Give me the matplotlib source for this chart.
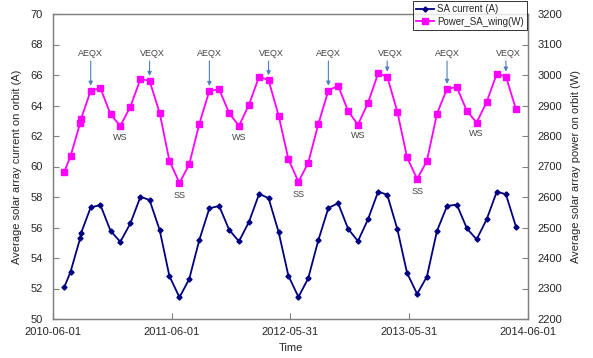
import matplotlib
matplotlib.use("Agg")
import matplotlib.pyplot as plt
import matplotlib.dates as mdates
import pandas as pd

plt.rcParams["font.family"] = ["Liberation Sans", "DejaVu Sans"]

# Sample dates (two samples fall in August 2010)
dates = [
    "2010-07-06", "2010-07-25", "2010-08-24", "2010-08-26", "2010-09-25", "2010-10-25",
    "2010-11-25", "2010-12-25", "2011-01-25", "2011-02-25", "2011-03-25", "2011-04-25",
    "2011-05-25", "2011-06-25", "2011-07-25", "2011-08-25", "2011-09-25", "2011-10-25",
    "2011-11-25", "2011-12-25", "2012-01-25", "2012-02-25", "2012-03-25", "2012-04-25",
    "2012-05-25", "2012-06-25", "2012-07-25", "2012-08-25", "2012-09-25", "2012-10-25",
    "2012-11-25", "2012-12-25", "2013-01-25", "2013-02-25", "2013-03-25", "2013-04-25",
    "2013-05-25", "2013-06-25", "2013-07-25", "2013-08-25", "2013-09-25", "2013-10-25",
    "2013-11-25", "2013-12-25", "2014-01-25", "2014-02-25", "2014-03-25", "2014-04-25",
]

# Average solar array current on orbit (A)
sa_current = [
    52.10, 53.10, 55.33, 55.62, 57.32, 57.47, 55.78, 55.06, 56.27, 58.02, 57.80, 55.84,
    52.82, 51.42, 52.62, 55.18, 57.26, 57.41, 55.84, 55.09, 56.38, 58.20, 57.93, 55.70,
    52.84, 51.44, 52.67, 55.16, 57.28, 57.59, 55.90, 55.11, 56.54, 58.35, 58.15, 55.90,
    53.02, 51.64, 52.78, 55.77, 57.41, 57.50, 55.94, 55.22, 56.54, 58.35, 58.18, 56.05,
]

# Average solar array wing power on orbit (W)
sa_power = [
    2683, 2734, 2844, 2855, 2949, 2957, 2871, 2833, 2896, 2987, 2981, 2876,
    2719, 2646, 2707, 2840, 2948, 2953, 2875, 2833, 2903, 2995, 2983, 2867,
    2724, 2650, 2712, 2839, 2949, 2965, 2881, 2837, 2909, 3005, 2995, 2880,
    2730, 2659, 2718, 2873, 2955, 2960, 2882, 2844, 2912, 3004, 2995, 2888,
]

# Seasonal markers: equinoxes (arrows) and solstices (labels below the curve)
aeqx_dates = ["2010-09-25", "2011-09-25", "2012-09-25", "2013-09-25"]
veqx_dates = ["2011-03-25", "2012-03-25", "2013-03-25", "2014-03-25"]
ws_dates = ["2010-12-25", "2011-12-25", "2012-12-25", "2013-12-25"]
ss_dates = ["2011-06-25", "2012-06-25", "2013-06-25"]

tick_dates = ["2010-06-01", "2011-06-01", "2012-05-31", "2013-05-31", "2014-06-01"]

t = pd.to_datetime(dates)
power_by_date = dict(zip(dates, sa_power))

W, H = 593, 358
fig = plt.figure(figsize=(W / 100, H / 100), dpi=100)
ax = fig.add_axes([53 / W, 1 - 319 / H, 475 / W, 305 / H])
ax2 = ax.twinx()

navy = "#000080"
magenta = "#FF00FF"
spine_col = "#808080"
text_col = "#262626"

l1, = ax.plot(t, sa_current, color=navy, lw=1.3, marker="D", ms=2.6,
              mec=navy, mfc=navy, label="SA current (A)")
l2, = ax2.plot(t, sa_power, color=magenta, lw=1.3, marker="s", ms=3.8,
               mec=magenta, mfc=magenta, label="Power_SA_wing(W)")

ax.set_xlim(pd.Timestamp("2010-06-01"), pd.Timestamp("2014-06-01"))
ax.set_xticks(pd.to_datetime(tick_dates))
ax.xaxis.set_major_formatter(mdates.DateFormatter("%Y-%m-%d"))

ax.set_ylim(50, 70)
ax.set_yticks(range(50, 71, 2))
ax2.set_ylim(2200, 3200)
ax2.set_yticks(range(2200, 3201, 100))

for a in (ax, ax2):
    for s in a.spines.values():
        s.set_color(spine_col)
        s.set_linewidth(0.9)

ax.tick_params(axis="both", direction="in", length=4, width=0.8, color=spine_col,
               labelsize=8, labelcolor=text_col)
ax.tick_params(axis="y", pad=7.5)
ax.tick_params(axis="x", pad=6)
ax2.tick_params(axis="y", direction="in", length=4, width=0.8, color=spine_col,
                labelsize=8, labelcolor=text_col, pad=7)

ax.set_xlabel("Time", fontsize=8, color=text_col, labelpad=4)
ax.set_ylabel("Average solar array current on orbit (A)", fontsize=8,
              color=text_col, labelpad=6)
ax2.set_ylabel("Average solar array power on orbit (W)", fontsize=8,
               color=text_col, labelpad=6)

arrow_col = "#4F81BD"
label_col = "#404040"

def equinox(d, name, dx):
    x = pd.Timestamp(d)
    y = power_by_date[d]
    ax2.annotate("", xy=(x, y), xycoords="data",
                 xytext=(x, 0.846), textcoords=("data", "axes fraction"),
                 arrowprops=dict(arrowstyle="-|>", color=arrow_col, lw=0.8,
                                 mutation_scale=6, shrinkA=0, shrinkB=3.5))
    ax2.annotate(name, xy=(x, 0.87), xycoords=("data", "axes fraction"),
                 xytext=(dx, 0), textcoords="offset points",
                 ha="center", va="center", fontsize=6.5, color=label_col)

for d in aeqx_dates:
    equinox(d, "AEQX", 0)
for d in veqx_dates:
    equinox(d, "VEQX", 2)

for d in ws_dates:
    ax2.annotate("WS", xy=(pd.Timestamp(d), power_by_date[d]),
                 xytext=(0, -8), textcoords="offset points",
                 ha="center", va="center", fontsize=6.5, color=label_col)
for d in ss_dates:
    ax2.annotate("SS", xy=(pd.Timestamp(d), power_by_date[d]),
                 xytext=(0, -9.3), textcoords="offset points",
                 ha="center", va="center", fontsize=6.5, color=label_col)

leg = fig.legend([l1, l2], ["SA current (A)", "Power_SA_wing(W)"],
                 loc="upper right", bbox_to_anchor=(527 / W, 1 - 1 / H),
                 fontsize=7, frameon=True, fancybox=False, edgecolor="black",
                 borderaxespad=0, handlelength=1.8, handletextpad=0.3,
                 borderpad=0.35, labelspacing=0.25)
leg.get_frame().set_linewidth(0.7)
for txt in leg.get_texts():
    txt.set_color(text_col)

fig.savefig("out.png", dpi=100)
